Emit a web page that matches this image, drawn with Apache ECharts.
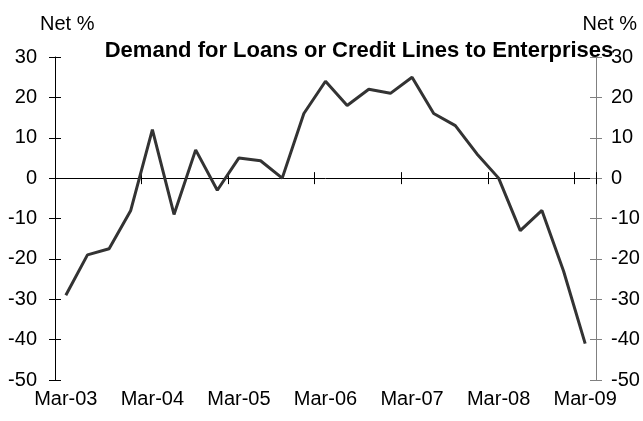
<!DOCTYPE html>
<html>
<head>
<meta charset="utf-8">
<script src="https://cdn.jsdelivr.net/npm/echarts@6/dist/echarts.min.js"></script>
<style>
html,body{margin:0;padding:0;background:#fff;}
#c{width:643px;height:421px;}
</style>
</head>
<body>
<div id="c"></div>
<script>
var categories = ["Mar-03","Jun-03","Sep-03","Dec-03","Mar-04","Jun-04","Sep-04","Dec-04",
  "Mar-05","Jun-05","Sep-05","Dec-05","Mar-06","Jun-06","Sep-06","Dec-06",
  "Mar-07","Jun-07","Sep-07","Dec-07","Mar-08","Jun-08","Sep-08","Dec-08","Mar-09"];
var demandValues = [-29,-19,-17.5,-8,12,-9,7,-3,5,4.3,0,16,24,18,22,21,25,16,13,6,0,-13,-8,-23,-41];
var yTicks = {min:-50, max:30, interval:10};
var titleText = "Demand for Loans or Credit Lines to Enterprises";
var axisUnit = "Net %";

var FONT = "Liberation Sans, Arial, sans-serif";
var chart = echarts.init(document.getElementById('c'), null, {renderer:'canvas'});

function yAx(pos, showLine, lineColor, inside, showLabel, margin){
  return {
    type:'value', position:pos, min:yTicks.min, max:yTicks.max, interval:yTicks.interval,
    axisLine:{show:showLine, onZero:false, lineStyle:{color:lineColor, width:1}},
    axisTick:{show:true, inside:inside, length:6, lineStyle:{color:lineColor, width:1}},
    axisLabel:{show:showLabel, margin:margin, color:'#000', fontSize:20, fontFamily:FONT},
    splitLine:{show:false}
  };
}
function xAx(showLine, showTick, inside, showLabel){
  return {
    type:'category', data:categories, position:'bottom', boundaryGap:true,
    axisLine:{show:showLine, onZero:showLine || showTick, onZeroAxisIndex:0, lineStyle:{color:'#000', width:1}},
    axisTick:{show:showTick, inside:inside, interval:3, length:6, alignWithLabel:false, lineStyle:{color:'#000', width:1}},
    axisLabel:{show:showLabel, interval:3, margin:9, color:'#000', fontSize:20, fontFamily:FONT},
    splitLine:{show:false}
  };
}

chart.setOption({
  animation:false,
  backgroundColor:'#fff',
  grid:{left:55, right:47, top:57, bottom:41, containLabel:false},
  title:{
    text:titleText, left:354, textAlign:'center', top:35,
    textStyle:{fontSize:22, fontWeight:'bold', color:'#000', fontFamily:FONT}
  },
  graphic:[
    {type:'text', left:40, top:14, style:{text:axisUnit, font:'20px ' + FONT, fill:'#000'}},
    {type:'text', right:6, top:14, style:{text:axisUnit, font:'20px ' + FONT, fill:'#000'}}
  ],
  xAxis:[
    xAx(false,false,false,true),
    xAx(true,true,false,false),
    xAx(false,true,true,false)
  ],
  yAxis:[
    yAx('left', true, '#000', false, true, 18),
    yAx('left', false, '#000', true, false, 18),
    yAx('right', true, '#808080', false, true, 15),
    yAx('right', false, '#808080', true, false, 15)
  ],
  series:[{
    type:'line', data:demandValues, xAxisIndex:0, yAxisIndex:0,
    symbol:'none', lineStyle:{color:'#333333', width:3}, z:5
  }]
});
</script>
</body>
</html>
